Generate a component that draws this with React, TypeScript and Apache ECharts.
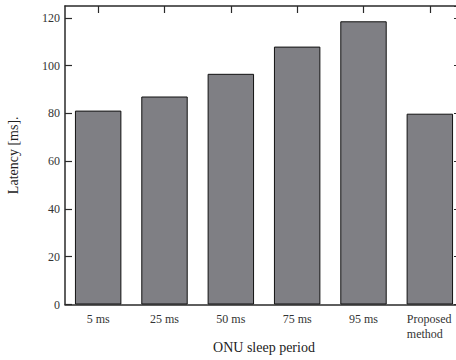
import React, { useEffect, useRef } from "react";
import * as echarts from "echarts";

const categories = ["5 ms", "25 ms", "50 ms", "75 ms", "95 ms", "Proposed\nmethod"];
const latency = [81.2, 87.1, 96.6, 108.0, 118.6, 79.9];
const yTicks = { min: 0, max: 125, interval: 20 };

const FONT = '"Liberation Serif", "DejaVu Serif", serif';
const AXIS = "#2a2a2a";

export default function App() {
  const ref = useRef<HTMLDivElement>(null);
  useEffect(() => {
    if (!ref.current) return;
    const chart = echarts.init(ref.current, undefined, { renderer: "svg" });
    chart.setOption({
      animation: false,
      backgroundColor: "#ffffff",
      textStyle: { fontFamily: FONT },
      grid: {
        left: 65,
        top: 6,
        width: 398,
        height: 298.5,
        containLabel: false,
        outerBoundsMode: "none",
      },
      xAxis: [
        {
          type: "category",
          data: categories,
          position: "bottom",
          axisLine: { lineStyle: { color: AXIS, width: 1.5 } },
          axisTick: { show: false },
          axisLabel: {
            interval: 0,
            hideOverlap: false,
            fontFamily: FONT,
            fontSize: 12,
            color: "#333",
            margin: 7,
            lineHeight: 15,
            formatter: (v: string) =>
              v.includes("\n")
                ? v
                    .split("\n")
                    .map((s) => `{l|${s}}`)
                    .join("\n")
                : v,
            rich: {
              l: { width: 46, align: "left", fontFamily: FONT, fontSize: 12, color: "#333", lineHeight: 15 },
            },
          },
          name: "ONU sleep period",
          nameLocation: "middle",
          nameGap: 36,
          nameMoveOverlap: false,
          nameTextStyle: { fontFamily: FONT, fontSize: 14, color: "#222" },
        },
        {
          type: "category",
          gridIndex: 0,
          data: categories,
          position: "top",
          axisLine: { show: true, onZero: false, lineStyle: { color: AXIS, width: 1.5 } },
          axisTick: {
            show: true,
            inside: true,
            interval: 0,
            alignWithLabel: true,
            length: 7,
            lineStyle: { color: AXIS, width: 1.2 },
          },
          axisLabel: { show: false },
        },
      ],
      yAxis: [
        {
          type: "value",
          min: yTicks.min,
          max: yTicks.max,
          interval: yTicks.interval,
          position: "left",
          axisLine: { show: true, lineStyle: { color: AXIS, width: 1.5 } },
          axisTick: { show: true, inside: true, length: 7, lineStyle: { color: AXIS, width: 1.2 } },
          splitLine: { show: false },
          axisLabel: { fontFamily: FONT, fontSize: 12, color: "#333", margin: 5, showMaxLabel: false },
          name: "Latency [ms].",
          nameLocation: "middle",
          nameGap: 45,
          nameTextStyle: { fontFamily: FONT, fontSize: 14, color: "#222" },
        },
        {
          type: "value",
          gridIndex: 0,
          min: yTicks.min,
          max: yTicks.max,
          interval: yTicks.interval,
          position: "right",
          axisLine: { show: true, onZero: false, lineStyle: { color: AXIS, width: 1.5 } },
          axisTick: { show: true, inside: true, length: 9, lineStyle: { color: AXIS, width: 1.2 } },
          splitLine: { show: false },
          axisLabel: { show: false },
        },
      ],
      series: [
        {
          type: "bar",
          data: latency,
          barWidth: "70%",
          itemStyle: { color: "#7f7f84", borderColor: "#111", borderWidth: 1 },
        },
      ],
    });
    return () => chart.dispose();
  }, []);
  return (
    <div
      ref={ref}
      style={{ position: "absolute", left: 0, top: 0, width: 456, height: 360 }}
    />
  );
}
